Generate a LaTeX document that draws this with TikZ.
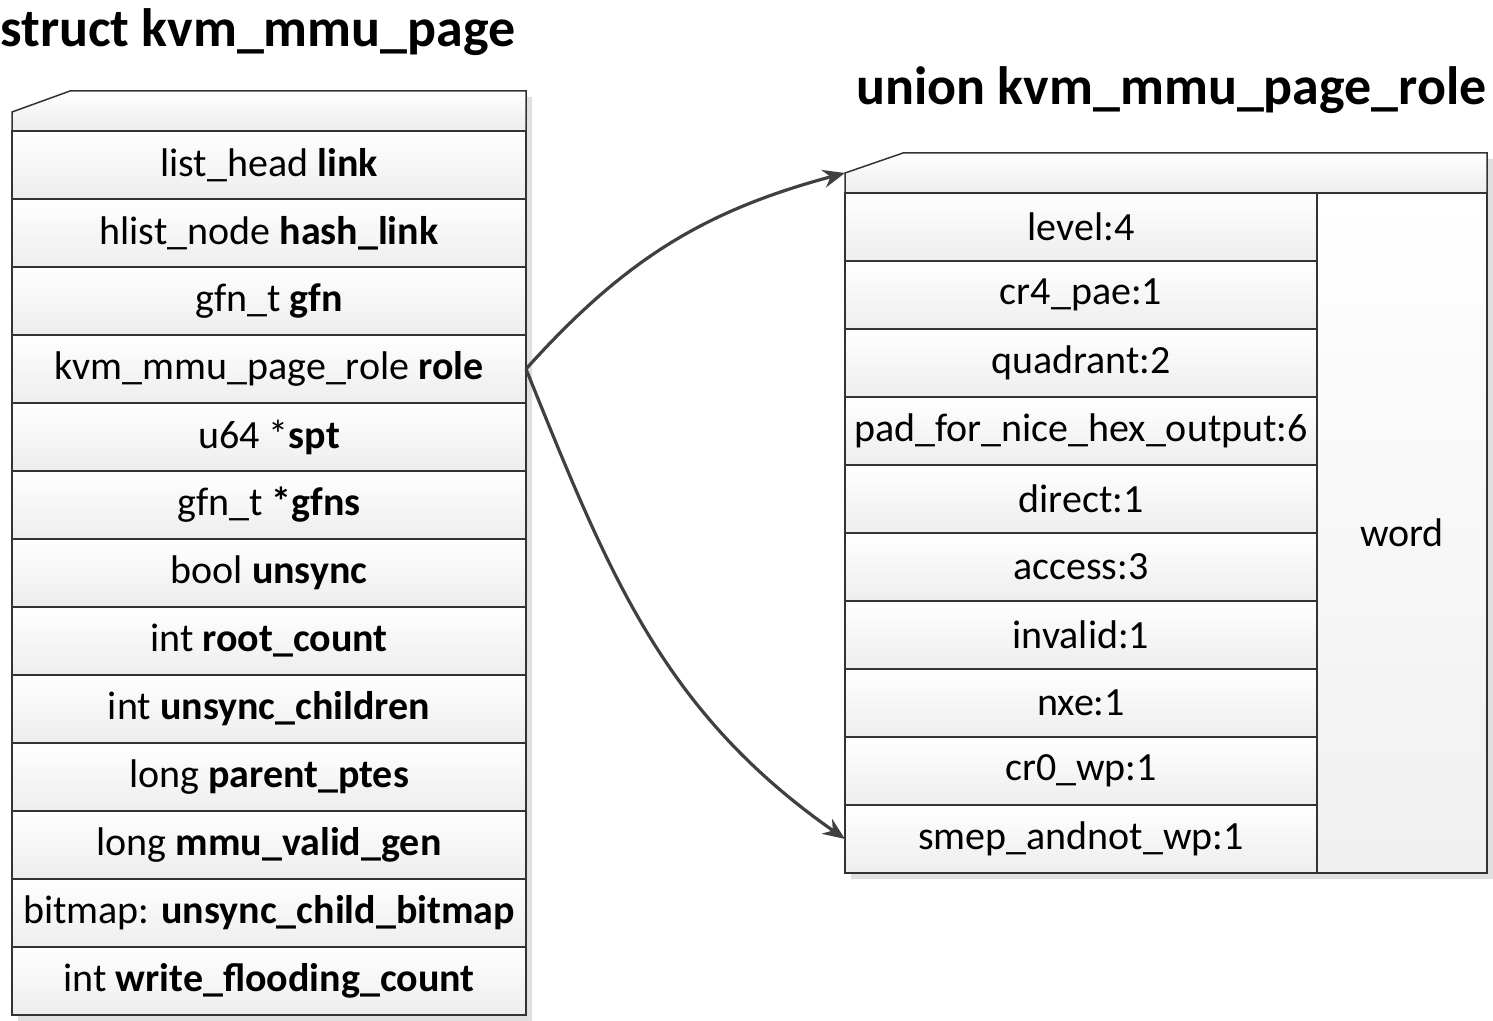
\documentclass[tikz,border=0pt]{standalone}
\usepackage{fontspec}
\setmainfont{Carlito}
\usetikzlibrary{positioning,arrows.meta}

\tikzset{
  field/.style={draw=black!80, line width=0.75pt, top color=white, bottom color=black!7,
    minimum width=257pt, minimum height=34pt, inner sep=0pt, outer sep=0pt,
    font=\fontsize{20}{24}\selectfont},
  bitfield/.style={field, minimum width=236pt},
  headbox/.style={draw=black!80, line width=0.75pt, top color=white, bottom color=black!7},
  shadowbox/.style={fill=black!12},
  link/.style={-{Stealth[length=11pt,width=9pt]}, line width=1.6pt, draw=black!75},
  title/.style={font=\fontsize{27}{32}\selectfont\bfseries, inner sep=0pt},
}

\begin{document}
\begin{tikzpicture}[x=0.5pt,y=-0.5pt]
        \useasboundingbox (0,0) rectangle (1493,1021);
        % Titles
        \node[title, anchor=base west] (pagetitle) at (0,47) {struct kvm\_mmu\_page};
        \node[title, anchor=base east] (roletitle) at (1487,105) {union kvm\_mmu\_page\_role};
        % Shadows
        \fill[shadowbox] (18,118) -- (76,97) -- (532,97) -- (532,1021) -- (18,1021) -- cycle;
        \fill[shadowbox] (851,179) -- (909,159) -- (1493,159) -- (1493,879) -- (851,879) -- cycle;
        % struct kvm_mmu_page
        \draw[headbox] (12,112) -- (70,91) -- (526,91) -- (526,131) -- (12,131) -- cycle;
        \node[field] (link) at (269,165) {list\_head \textbf{link}};
        \node[field, below=0pt of link] (hash) {hlist\_node \textbf{hash\_link}};
        \node[field, below=0pt of hash] (gfn) {gfn\_t \textbf{gfn}};
        \node[field, below=0pt of gfn] (role) {kvm\_mmu\_page\_role \textbf{role}};
        \node[field, below=0pt of role] (spt) {u64 *\textbf{spt}};
        \node[field, below=0pt of spt] (gfns) {gfn\_t \textbf{*gfns}};
        \node[field, below=0pt of gfns] (unsync) {bool \textbf{unsync}};
        \node[field, below=0pt of unsync] (rootcount) {int \textbf{root\_count}};
        \node[field, below=0pt of rootcount] (children) {int \textbf{unsync\_children}};
        \node[field, below=0pt of children] (parent) {long \textbf{parent\_ptes}};
        \node[field, below=0pt of parent] (validgen) {long \textbf{mmu\_valid\_gen}};
        \node[field, below=0pt of validgen] (bitmap) {bitmap: \textbf{unsync\_child\_bitmap}};
        \node[field, below=0pt of bitmap] (flooding) {int \textbf{write\_flooding\_count}};
        % union kvm_mmu_page_role
        \draw[headbox] (845,173) -- (903,153) -- (1487,153) -- (1487,193) -- (845,193) -- cycle;
        \coordinate (rolecorner) at (845,173);
        \node[bitfield] (level) at (1081,227) {level:4};
        \node[bitfield, below=0pt of level] (cr4pae) {cr4\_pae:1};
        \node[bitfield, below=0pt of cr4pae] (quadrant) {quadrant:2};
        \node[bitfield, below=0pt of quadrant] (pad) {pad\_for\_nice\_hex\_output:6};
        \node[bitfield, below=0pt of pad] (direct) {direct:1};
        \node[bitfield, below=0pt of direct] (access) {access:3};
        \node[bitfield, below=0pt of access] (invalid) {invalid:1};
        \node[bitfield, below=0pt of invalid] (nxe) {nxe:1};
        \node[bitfield, below=0pt of nxe] (crwp) {cr0\_wp:1};
        \node[bitfield, below=0pt of crwp] (smep) {smep\_andnot\_wp:1};
        \node[field, minimum width=85pt, minimum height=340pt, line width=1pt, top color=white, bottom color=black!6] (word) at (1402,533) {word};
        % Connectors
        \draw[link] (role.east) to[out=48,in=195] (rolecorner);
        \draw[link] (role.east) to[out=-68,in=145] (smep.west);
\end{tikzpicture}
\end{document}
